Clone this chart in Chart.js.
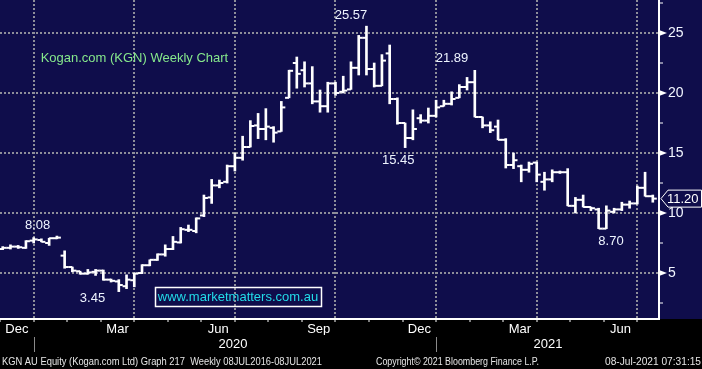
<!DOCTYPE html>
<html>
<head>
<meta charset="utf-8">
<script src="https://cdn.jsdelivr.net/npm/chart.js@4/dist/chart.umd.min.js"></script>
<style>
  html, body { margin: 0; padding: 0; background: #000; }
  #wrap { width: 702px; height: 369px; }
</style>
</head>
<body>
<div id="wrap"><canvas id="kgnChart" width="702" height="369"></canvas></div>
<script>
// Weekly OHLC, KGN AU, early Dec 2019 -> 08 Jul 2021 (x = week number)
const opens = [7.00, 7.10, 7.20, 7.10, 7.70, 7.75, 7.50, 7.90, 6.45, 5.50,
    5.15, 4.95, 5.10, 5.20, 4.45, 4.30, 3.90, 4.40, 5.00, 5.65,
    6.10, 6.55, 7.00, 7.55, 8.60, 8.50, 9.80, 11.30, 12.30, 12.60,
    13.90, 14.60, 15.50, 17.30, 17.00, 17.10, 16.80, 19.60, 22.50, 21.90,
    20.80, 19.30, 18.90, 20.80, 20.10, 20.30, 22.10, 24.60, 22.00, 20.60,
    23.30, 19.50, 17.50, 16.25, 17.90, 17.70, 18.10, 18.90, 19.10, 19.60,
    20.50, 20.90, 18.00, 17.30, 17.20, 16.10, 14.00, 13.90, 13.60, 14.20,
    12.60, 12.80, 13.40, 13.40, 10.60, 11.10, 10.50, 10.30, 8.70, 10.10,
    10.30, 10.70, 10.80, 12.10, 11.40];
const highs = [7.20, 7.35, 7.30, 7.70, 7.95, 7.85, 7.90, 8.08, 6.85, 5.50,
    5.15, 5.30, 5.30, 5.25, 4.50, 4.45, 4.85, 5.00, 5.70, 6.10,
    6.60, 7.35, 8.05, 8.80, 9.00, 9.60, 11.50, 12.80, 12.75, 14.00,
    15.00, 16.40, 17.70, 18.30, 18.70, 17.20, 19.30, 21.90, 23.00, 22.60,
    22.20, 20.25, 20.90, 20.90, 21.40, 22.60, 24.80, 25.57, 22.50, 23.20,
    24.00, 19.60, 17.50, 18.60, 18.20, 18.75, 19.40, 19.40, 20.10, 20.70,
    21.30, 21.89, 18.00, 17.60, 17.75, 16.20, 15.00, 14.00, 14.25, 14.25,
    13.40, 13.60, 13.50, 13.70, 11.30, 11.50, 10.50, 10.40, 10.60, 10.40,
    10.90, 11.00, 12.25, 13.40, 11.50];
const lows = [6.95, 7.00, 7.05, 7.05, 7.50, 7.60, 7.30, 7.85, 5.40, 5.10,
    4.90, 4.90, 4.80, 4.40, 4.25, 3.45, 3.70, 3.85, 4.95, 5.60,
    6.05, 6.40, 6.95, 7.50, 8.45, 8.35, 9.70, 10.80, 12.10, 12.50,
    13.50, 14.40, 15.50, 16.20, 16.10, 15.90, 16.80, 19.60, 20.40, 20.50,
    19.10, 18.40, 18.40, 19.80, 20.00, 20.30, 21.50, 21.50, 20.50, 20.60,
    19.10, 17.40, 15.45, 16.10, 17.50, 17.50, 18.00, 18.90, 19.00, 19.60,
    20.25, 18.00, 17.10, 16.70, 16.10, 13.75, 13.70, 12.60, 13.40, 12.60,
    11.90, 12.60, 13.30, 10.60, 10.00, 10.50, 10.20, 8.70, 8.70, 10.00,
    10.20, 10.40, 10.75, 11.40, 10.90];
const closes = [7.10, 7.20, 7.15, 7.65, 7.80, 7.60, 7.90, 7.95, 5.50, 5.20,
    4.95, 5.05, 5.20, 4.45, 4.35, 4.00, 4.45, 4.95, 5.65, 6.10,
    6.55, 7.00, 7.60, 8.65, 8.60, 9.55, 11.25, 12.30, 12.50, 13.90,
    14.60, 15.50, 17.25, 17.00, 17.20, 16.70, 18.80, 21.85, 21.60, 20.80,
    19.30, 18.90, 20.80, 20.00, 20.20, 22.10, 24.60, 22.00, 20.60, 22.70,
    19.50, 17.50, 16.25, 17.00, 17.70, 18.10, 18.80, 19.10, 19.50, 20.50,
    20.90, 18.00, 17.30, 16.90, 16.10, 14.00, 14.40, 13.60, 14.10, 13.20,
    12.80, 13.40, 13.40, 10.60, 11.10, 10.50, 10.40, 8.70, 10.20, 10.30,
    10.70, 10.80, 12.10, 11.40, 11.20];

// axis labels
const monthLabels = ['Dec', 'Jan', 'Feb', 'Mar', 'Apr', 'May', 'Jun', 'Jul', 'Aug', 'Sep',
    'Oct', 'Nov', 'Dec', 'Jan', 'Feb', 'Mar', 'Apr', 'May', 'Jun', 'Jul'];
const shownMonths = ['Dec', 'Mar', 'Jun', 'Sep'];
const yearLabels = ['2020', '2021'];
const yearWeeks = [29.75, 70.45];
const yearStarts = [4, 56];
const priceTicks = [2.5, 5, 7.5, 10, 12.5, 15, 17.5, 20, 22.5, 25, 27.5];

// text notes: [text, week, price]
const notes = [
    ['25.57', 45.0, 26.5],
    ['21.89', 58.05, 22.9],
    ['15.45', 51.1, 14.35],
    ['8.08', 4.5, 9.0],
    ['3.45', 11.6, 2.92],
    ['8.70', 78.6, 7.6]
];

const navy = '#0f0d4b';
const gridGrey = '#8e8e9a';
const sans = "'Liberation Sans', Arial, sans-serif";

// one tick per month start, quarter starts get a grid line
const monthStarts = monthLabels.map((m, k) => 4 + (k - 1) * 13 / 3);

const bloombergPlugin = {
    id: 'bloomberg',
    beforeDraw(chart) {
        const { ctx, chartArea } = chart;
        ctx.save();
        ctx.fillStyle = '#000';
        ctx.fillRect(0, 0, chart.width, chart.height);
        ctx.fillStyle = navy;
        ctx.fillRect(0, 0, chart.width, chartArea.bottom);
        ctx.restore();
    },
    afterDraw(chart) {
        const { ctx, chartArea, scales } = chart;
        const x = scales.x, y = scales.y;
        ctx.save();

        // arrow heads on the price axis
        ctx.fillStyle = '#fff';
        priceTicks.filter(v => v % 5 === 0).forEach(v => {
            const py = Math.round(y.getPixelForValue(v));
            ctx.beginPath();
            ctx.moveTo(chartArea.right, py - 3);
            ctx.lineTo(chartArea.right + 8, py);
            ctx.lineTo(chartArea.right, py + 3);
            ctx.closePath();
            ctx.fill();
        });

        // last price tag
        const last = closes[closes.length - 1];
        const ty = y.getPixelForValue(last);
        const tx = chartArea.right + 2;
        ctx.beginPath();
        ctx.moveTo(tx, ty);
        ctx.lineTo(tx + 7, ty - 8.5);
        ctx.lineTo(chart.width - 0.5, ty - 8.5);
        ctx.lineTo(chart.width - 0.5, ty + 8.5);
        ctx.lineTo(tx + 7, ty + 8.5);
        ctx.closePath();
        ctx.fillStyle = navy;
        ctx.fill();
        ctx.strokeStyle = '#fff';
        ctx.lineWidth = 1;
        ctx.stroke();
        ctx.fillStyle = '#fff';
        ctx.font = '13px ' + sans;
        ctx.textAlign = 'left';
        ctx.textBaseline = 'middle';
        ctx.fillText(last.toFixed(2), tx + 6, ty + 1, 33);

        // value notes
        ctx.font = '13px ' + sans;
        ctx.textAlign = 'center';
        ctx.fillStyle = '#eef4ff';
        notes.forEach(n => {
            ctx.fillText(n[0], x.getPixelForValue(n[1]), y.getPixelForValue(n[2]));
        });

        // chart title
        ctx.textAlign = 'left';
        ctx.fillStyle = '#86e88c';
        ctx.fillText('Kogan.com (KGN) Weekly Chart', x.getPixelForValue(4.9), y.getPixelForValue(22.92));

        // web address box
        const bx1 = x.getPixelForValue(19.68), bx2 = x.getPixelForValue(41.12);
        const by1 = y.getPixelForValue(3.83), by2 = y.getPixelForValue(2.25);
        ctx.strokeStyle = '#fff';
        ctx.lineWidth = 1.5;
        ctx.strokeRect(Math.round(bx1) + 0.5, Math.round(by1) + 0.5, Math.round(bx2 - bx1), Math.round(by2 - by1));
        ctx.fillStyle = '#22dbe8';
        ctx.textAlign = 'center';
        ctx.fillText('www.marketmatters.com.au', (bx1 + bx2) / 2, (by1 + by2) / 2 + 1);

        // year separators
        ctx.strokeStyle = '#8a8a8a';
        ctx.lineWidth = 1;
        yearStarts.forEach(w => {
            const px = Math.round(x.getPixelForValue(w)) + 0.5;
            ctx.beginPath();
            ctx.moveTo(px, chartArea.bottom + 18);
            ctx.lineTo(px, chartArea.bottom + 33);
            ctx.stroke();
        });

        // footer, squeezed like the terminal font
        ctx.font = '11px ' + sans;
        ctx.fillStyle = '#e6e6e6';
        ctx.textBaseline = 'middle';
        ctx.textAlign = 'left';
        ctx.fillText('KGN AU Equity (Kogan.com Ltd) Graph 217  Weekly 08JUL2016-08JUL2021', 2, 362, 320);
        ctx.fillText('Copyright\u00a9 2021 Bloomberg Finance L.P.', 376, 362, 163);
        ctx.textAlign = 'right';
        ctx.fillText('08-Jul-2021 07:31:15', 701, 362, 96);
        ctx.restore();
    }
};

const weeks = closes.map((c, i) => i);

new Chart(document.getElementById('kgnChart'), {
    data: {
        datasets: [
            {
                type: 'bar',
                data: weeks.map(i => ({ x: i, y: [lows[i], highs[i]] })),
                backgroundColor: '#fff',
                barThickness: 2,
                grouped: false
            },
            {
                type: 'scatter',
                data: weeks.map(i => ({ x: i - 0.26, y: opens[i] })),
                pointStyle: 'line',
                radius: 2,
                borderColor: '#fff',
                borderWidth: 2
            },
            {
                type: 'scatter',
                data: weeks.map(i => ({ x: i + 0.26, y: closes[i] })),
                pointStyle: 'line',
                radius: 2,
                borderColor: '#fff',
                borderWidth: 2
            }
        ]
    },
    options: {
        responsive: false,
        animation: false,
        events: [],
        layout: { autoPadding: false, padding: { top: 0, left: 0, right: 0, bottom: 17 } },
        plugins: { legend: { display: false }, tooltip: { enabled: false } },
        scales: {
            x: {
                type: 'linear',
                position: 'bottom',
                offset: false,
                weight: 0,
                min: -0.35,
                max: 84.8,
                afterBuildTicks: s => { s.ticks = monthStarts.map(v => ({ value: v })); },
                ticks: {
                    autoSkip: false,
                    maxRotation: 0,
                    labelOffset: 16.8,
                    padding: 0,
                    color: '#fff',
                    font: { family: sans, size: 13 },
                    callback: (v, i) => shownMonths.includes(monthLabels[i]) ? monthLabels[i] : ''
                },
                grid: {
                    offset: false,
                    color: c => (c.index % 3 === 1) ? gridGrey : 'transparent',
                    lineWidth: 2,
                    tickColor: '#fff',
                    tickLength: 3,
                    tickWidth: 1
                },
                border: { display: true, color: '#fff', width: 2, dash: [2, 2] },
                afterFit: s => { s.height = 16; s.paddingLeft = 0; s.paddingRight = 0; }
            },
            xYear: {
                type: 'linear',
                position: 'bottom',
                offset: false,
                weight: 1,
                min: -0.35,
                max: 84.8,
                afterBuildTicks: s => { s.ticks = yearWeeks.map(v => ({ value: v })); },
                ticks: {
                    autoSkip: false,
                    maxRotation: 0,
                    padding: 2,
                    color: '#fff',
                    font: { family: sans, size: 13 },
                    callback: (v, i) => yearLabels[i]
                },
                grid: { display: false, drawTicks: false },
                border: { display: false },
                afterFit: s => { s.height = 17; s.paddingLeft = 0; s.paddingRight = 0; }
            },
            y: {
                position: 'right',
                min: 1.17,
                max: 27.75,
                afterBuildTicks: s => { s.ticks = priceTicks.map(v => ({ value: v })); },
                ticks: {
                    padding: 5,
                    color: '#f2f6ff',
                    font: { family: sans, size: 14 },
                    callback: v => v % 5 === 0 ? v : ''
                },
                grid: {
                    color: c => (c.tick && c.tick.value % 5 === 0) ? gridGrey : 'transparent',
                    lineWidth: 2,
                    tickColor: '#fff',
                    tickLength: 4,
                    tickWidth: 1
                },
                border: { display: true, color: '#fff', width: 2, dash: [2, 2] },
                afterFit: s => { s.width = 43; s.paddingTop = 0; s.paddingBottom = 0; }
            }
        }
    },
    plugins: [bloombergPlugin]
});
</script>
</body>
</html>
